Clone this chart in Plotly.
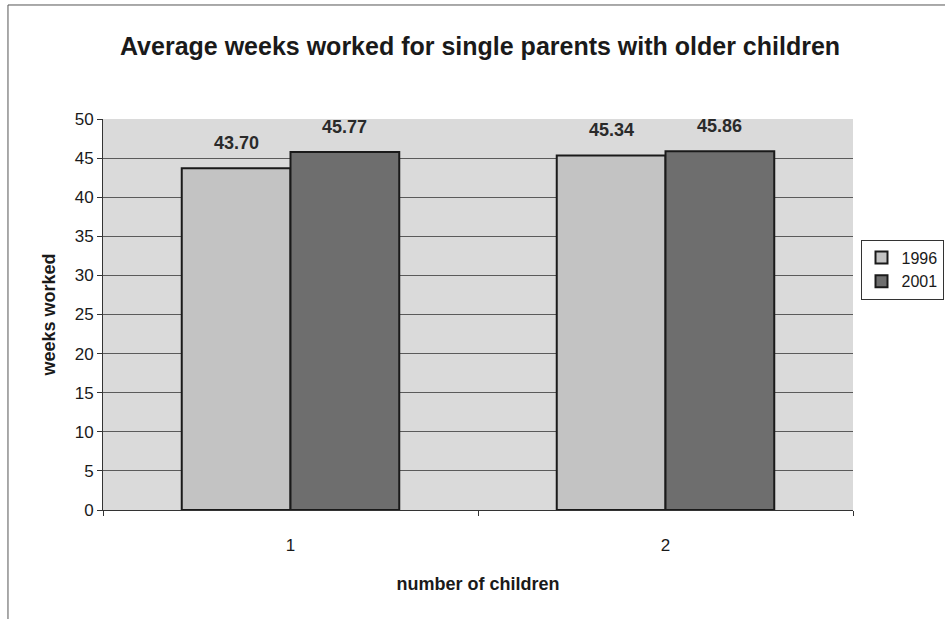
import plotly.graph_objects as go

# Average weeks worked, by number of children and survey year
categories = ["1", "2"]
years = ["1996", "2001"]
weeks_1996 = [43.70, 45.34]
weeks_2001 = [45.77, 45.86]
y_ticks = [0, 5, 10, 15, 20, 25, 30, 35, 40, 45, 50]

series = [
    (years[0], weeks_1996, "#c3c3c3", -1),
    (years[1], weeks_2001, "#6e6e6e", 1),
]

PLOT_W = 750
BARGAP = 0.42
bar_px = PLOT_W / len(categories) * (1 - BARGAP) / 2

fig = go.Figure()
annotations = []
for name, vals, color, side in series:
    fig.add_trace(go.Bar(
        x=categories,
        y=vals,
        name=name,
        marker=dict(color=color, line=dict(color="#1a1a1a", width=2)),
    ))
    # value labels sit above each bar, centred on it
    for idx, v in enumerate(vals):
        annotations.append(dict(
            x=idx, y=v, xref="x", yref="y",
            text=f"<b>{v:.2f}</b>", showarrow=False,
            xshift=side * bar_px / 2, yshift=13, yanchor="bottom",
            font=dict(family="Liberation Sans, Arial", size=18, color="#2a2a2a"),
        ))

fig.update_layout(
    width=945,
    height=619,
    paper_bgcolor="white",
    plot_bgcolor="#dadada",
    barmode="group",
    bargap=BARGAP,
    bargroupgap=0,
    margin=dict(l=103, r=92, t=119, b=109, autoexpand=False),
    title=dict(
        text="<b>Average weeks worked for single parents with older children</b>",
        x=0.508, xanchor="center", y=0.925, yanchor="middle",
        font=dict(family="Liberation Sans, Arial", size=25, color="#1a1a1a"),
    ),
    font=dict(family="Liberation Sans, Arial", color="#1a1a1a"),
    legend=dict(
        x=1.01, y=0.615, xanchor="left", yanchor="middle",
        bordercolor="#333333", borderwidth=1, bgcolor="white",
        font=dict(size=16, color="#1a1a1a"),
        itemwidth=30, tracegroupgap=4,
    ),
    xaxis=dict(
        type="category",
        title=dict(text="<b>number of children</b>", font=dict(size=18), standoff=22),
        tickfont=dict(size=17),
        showline=True, linecolor="#333333", linewidth=1,
        ticks="outside", tickson="boundaries", ticklen=5, tickcolor="#333333",
        ticklabelstandoff=20,
        showgrid=False,
    ),
    yaxis=dict(
        title=dict(text="<b>weeks worked</b>", font=dict(size=18), standoff=14),
        range=[0, 50],
        tickvals=y_ticks,
        tickfont=dict(size=17),
        showline=True, linecolor="#333333", linewidth=1,
        ticks="outside", ticklen=5, tickcolor="#333333",
        showgrid=True, gridcolor="#5a5a5a", gridwidth=1,
        zeroline=False,
    ),
    annotations=annotations,
    shapes=[dict(
        type="rect", xref="paper", yref="paper",
        x0=-0.1267, x1=1.2, y0=-0.4, y1=1.2916,
        line=dict(color="#555555", width=1), layer="below",
    )],
)

fig.write_html("out.html")
